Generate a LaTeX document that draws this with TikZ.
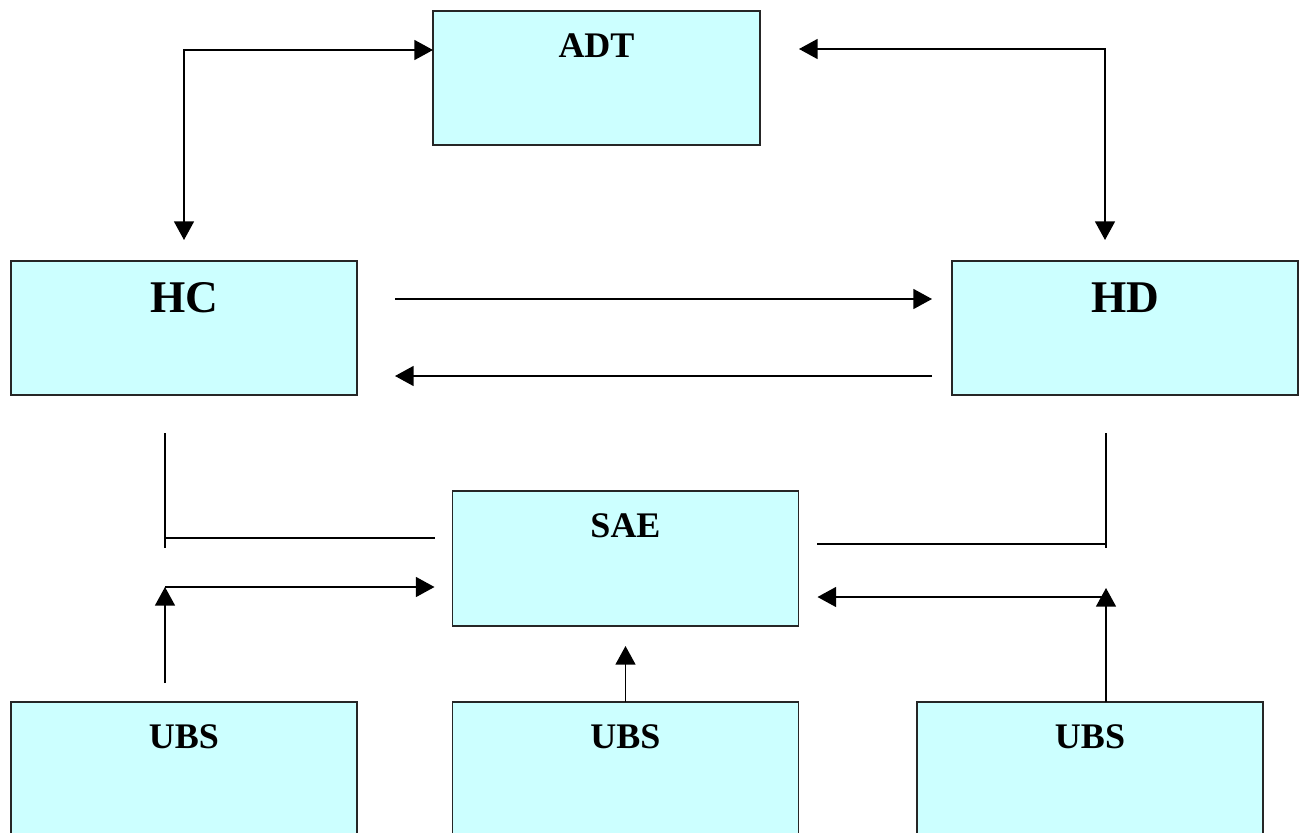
\documentclass[tikz,border=0pt]{standalone}
\usepackage{fontspec}
\setmainfont{Liberation Serif}
\usetikzlibrary{arrows.meta,positioning,calc}
\definecolor{boxcyan}{RGB}{204,255,255}

\begin{document}
\begin{tikzpicture}[
    x=0.75pt, y=-0.75pt,
    box/.style={draw=black!85, line width=1.4pt, fill=boxcyan, minimum width=259.5pt, minimum height=100.5pt, inner sep=0pt, outer sep=0pt},
    tag/.style={anchor=base, font=\bfseries\fontsize{27}{30}\selectfont},
    bigtag/.style={anchor=base, font=\bfseries\fontsize{34}{38}\selectfont},
    link/.style={line width=1.2pt},
    arr/.style={link, -{Triangle[length=14pt,width=15pt]}},
    dbl/.style={link, {Triangle[length=14pt,width=15pt]}-{Triangle[length=14pt,width=15pt]}},
]
\useasboundingbox (0,0) rectangle (1306,832);
\clip (0,0) rectangle (1306,832);
\fill[white] (0,0) rectangle (1306,832);

% boxes
\node[box, minimum width=245.25pt] (adt) at (596.5,78) {};
\node[box] (hc) at (184,328) {};
\node[box] (hd) at (1125,328) {};
\node[box, minimum height=101.25pt] (sae) at (625.5,558.5) {};
\node[box] (ubsa) at (184,769) {};
\node[box] (ubsb) at (625.5,769) {};
\node[box] (ubsc) at (1090,769) {};

% names
\node[tag] (adtlbl) at ($(adt.north)+(0,46)$) {ADT};
\node[bigtag] (hclbl) at ($(hc.north)+(0,51)$) {HC};
\node[bigtag] (hdlbl) at ($(hd.north)+(0,51)$) {HD};
\node[tag] (saelbl) at ($(sae.north)+(0,46)$) {SAE};
\node[tag] (ubsalbl) at ($(ubsa.north)+(0,46)$) {UBS};
\node[tag] (ubsblbl) at ($(ubsb.north)+(0,46)$) {UBS};
\node[tag] (ubsclbl) at ($(ubsc.north)+(0,46)$) {UBS};

% ADT links
\draw[dbl] ($(hc.north)+(0,-21)$) |- ($(adt.north west)+(0,39)$);
\draw[dbl] ($(hd.north)+(-20,-21)$) |- ($(adt.north east)+(39,38)$);

% HC <-> HD
\draw[arr] ($(hc.north east)+(38,38)$) -- ($(hd.north west)+(-20,38)$);
\draw[arr] ($(hd.south west)+(-20,-19)$) -- ($(hc.south east)+(38,-19)$);

% plain lines towards SAE
\draw[link] ($(hc.south)+(-19,38)$) -- ++(0,115);
\draw[link] ($(hc.south)+(-19,143)$) -- ($(sae.north west)+(-18,47)$);
\draw[link] ($(hd.south)+(-19,38)$) -- ++(0,115);
\draw[link] ($(hd.south)+(-19,149)$) -- ($(sae.north east)+(18,53)$);

% UBS to SAE
\draw[arr] ($(ubsa.north)+(-19,-19)$) -- ++(0,-96);
\draw[arr] ($(ubsa.north)+(-19,-115)$) -- ($(sae.north west)+(-18,96)$);
\draw[arr] (ubsb.north) -- ($(sae.south)+(0,20)$);
\draw[arr] ($(ubsc.north)+(16,0)$) -- ++(0,-114);
\draw[arr] ($(ubsc.north)+(16,-105)$) -- ($(sae.north east)+(19,106)$);
\end{tikzpicture}
\end{document}
